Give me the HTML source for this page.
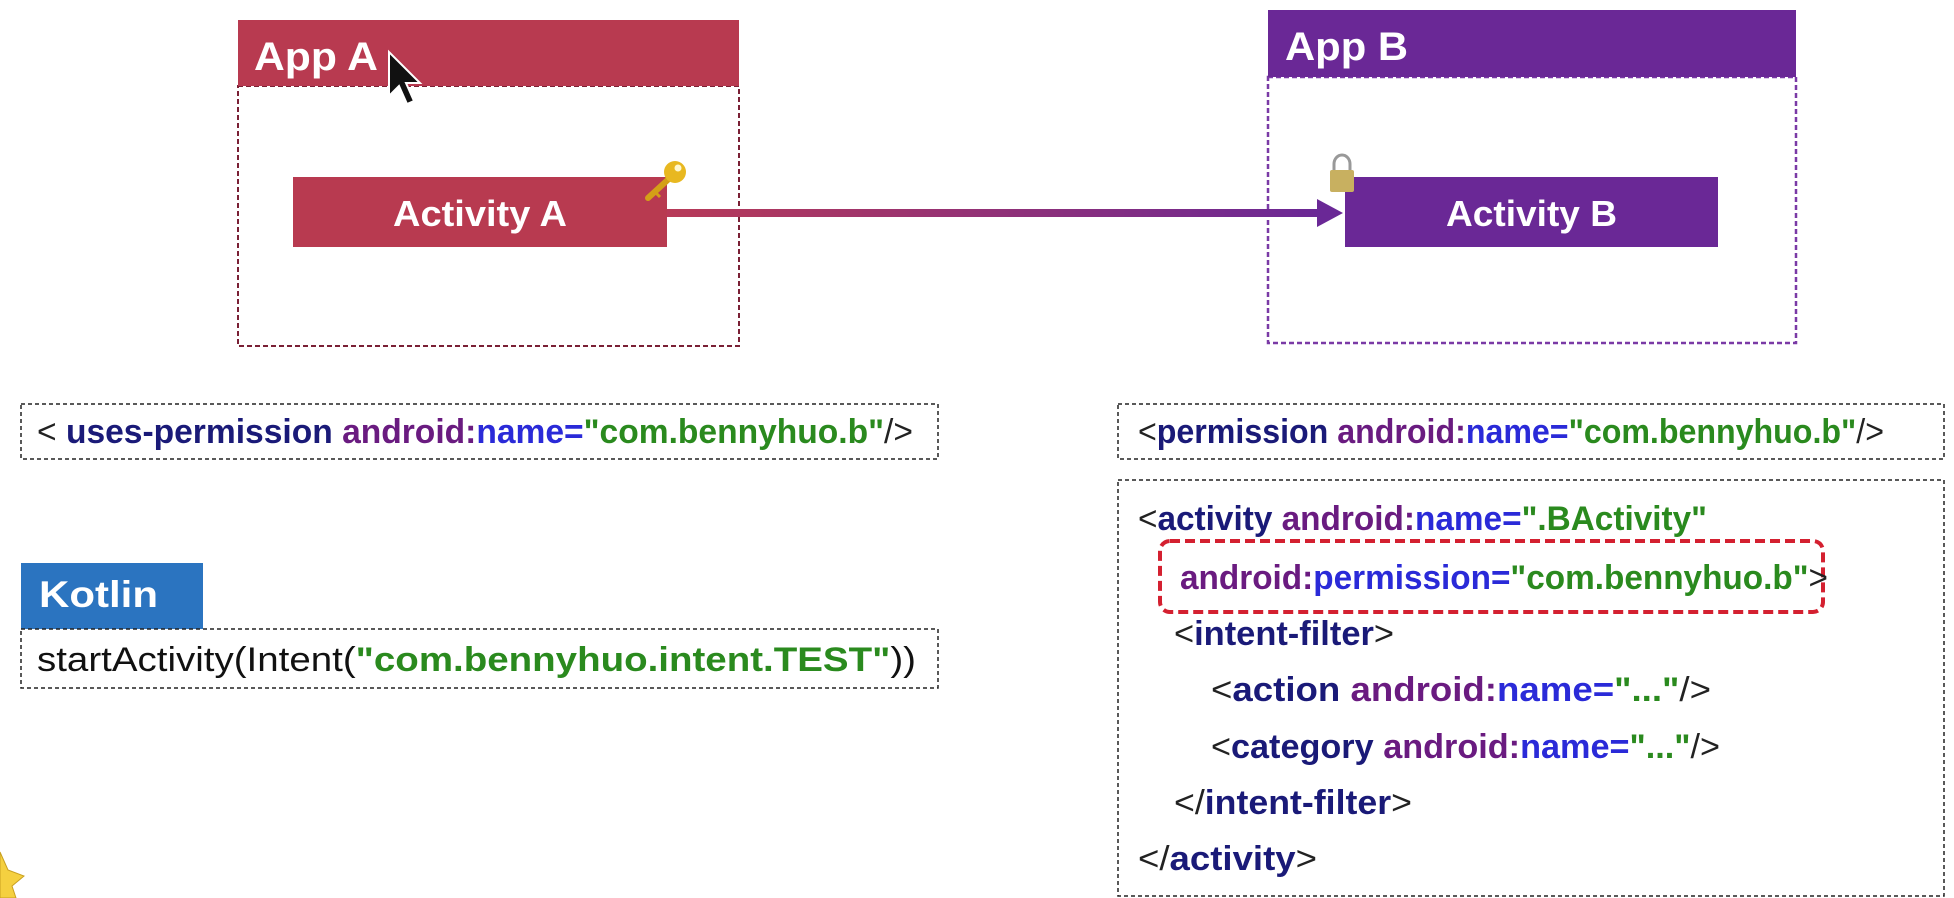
<!DOCTYPE html>
<html><head><meta charset="utf-8"><style>
html,body{margin:0;padding:0;background:#fff;}
svg{display:block;}
text{font-family:"Liberation Sans",sans-serif;}
</style></head><body>
<svg width="1954" height="898" viewBox="0 0 1954 898" xmlns="http://www.w3.org/2000/svg">
<defs>
<linearGradient id="g" x1="0" x2="1" y1="0" y2="0">
<stop offset="0" stop-color="#b83a58"/><stop offset="1" stop-color="#6a2896"/>
</linearGradient>
</defs>
<rect width="1954" height="898" fill="#fff"/>
<!-- App A -->
<rect x="238" y="86" width="501" height="260" fill="none" stroke="#7a2035" stroke-width="2" stroke-dasharray="5,3"/>
<rect x="238" y="20" width="501" height="66" fill="#b83a50"/>
<text x="254" y="70" font-size="40" font-weight="bold" fill="#fff" textLength="124" lengthAdjust="spacingAndGlyphs">App A</text>
<rect x="293" y="177" width="374" height="70" fill="#b83a50"/>
<text x="393" y="226" font-size="36" font-weight="bold" fill="#fff" textLength="174" lengthAdjust="spacingAndGlyphs">Activity A</text>
<!-- key -->
<line x1="672" y1="176" x2="648" y2="198" stroke="#d4a017" stroke-width="6" stroke-linecap="round"/>
<line x1="655" y1="192" x2="660" y2="197" stroke="#d4a017" stroke-width="3"/>
<circle cx="675" cy="172" r="11" fill="#e8b820"/>
<circle cx="678" cy="168" r="3.5" fill="#fff8d0"/>
<!-- cursor -->
<path d="M389,52 L389,96 L399,86 L407,104 L414,101 L406,83 L420,83 Z" fill="#111" stroke="#fff" stroke-width="2"/>
<!-- App B -->
<rect x="1268" y="77" width="528" height="266" fill="none" stroke="#7a3aa6" stroke-width="2.5" stroke-dasharray="5,3"/>
<rect x="1268" y="10" width="528" height="67" fill="#6a2896"/>
<text x="1285" y="60" font-size="40" font-weight="bold" fill="#fff" textLength="123" lengthAdjust="spacingAndGlyphs">App B</text>
<rect x="1345" y="177" width="373" height="70" fill="#6a2896"/>
<text x="1446" y="226" font-size="36" font-weight="bold" fill="#fff" textLength="171" lengthAdjust="spacingAndGlyphs">Activity B</text>
<!-- arrow -->
<rect x="667" y="209" width="653" height="8" fill="url(#g)"/>
<path d="M1317,199 L1343,213 L1317,227 Z" fill="#6a2896"/>
<!-- lock -->
<path d="M1334,172 L1334,164 A8,9 0 0 1 1350,164 L1350,172" fill="none" stroke="#999" stroke-width="3"/>
<rect x="1330" y="170" width="24" height="22" rx="2" fill="#c8b060"/>
<!-- uses-permission -->
<rect x="21" y="404" width="917" height="55" fill="none" stroke="#222" stroke-width="1.5" stroke-dasharray="4,3"/>
<text x="37" y="443" font-size="34" font-weight="bold" textLength="876" lengthAdjust="spacingAndGlyphs"><tspan fill="#222" font-weight="normal">&lt; </tspan><tspan fill="#1a1a78">uses-permission </tspan><tspan fill="#6a1b80">android:</tspan><tspan fill="#2a2ad8">name=</tspan><tspan fill="#2a8a1e">"com.bennyhuo.b"</tspan><tspan fill="#222" font-weight="normal">/&gt;</tspan></text>
<!-- Kotlin -->
<rect x="21" y="563" width="182" height="66" fill="#2b74c0"/>
<text x="39" y="607" font-size="37" font-weight="bold" fill="#fff" textLength="119" lengthAdjust="spacingAndGlyphs">Kotlin</text>
<rect x="21" y="629" width="917" height="59" fill="none" stroke="#222" stroke-width="1.5" stroke-dasharray="4,3"/>
<text x="37" y="671" font-size="34" textLength="879" lengthAdjust="spacingAndGlyphs"><tspan fill="#111">startActivity(Intent(</tspan><tspan fill="#2a8a1e" font-weight="bold">"com.bennyhuo.intent.TEST"</tspan><tspan fill="#111">))</tspan></text>
<!-- permission -->
<rect x="1118" y="404" width="826" height="55" fill="none" stroke="#222" stroke-width="1.5" stroke-dasharray="4,3"/>
<text x="1138" y="443" font-size="34" font-weight="bold" textLength="746" lengthAdjust="spacingAndGlyphs"><tspan fill="#222" font-weight="normal">&lt;</tspan><tspan fill="#1a1a78">permission </tspan><tspan fill="#6a1b80">android:</tspan><tspan fill="#2a2ad8">name=</tspan><tspan fill="#2a8a1e">"com.bennyhuo.b"</tspan><tspan fill="#222" font-weight="normal">/&gt;</tspan></text>
<!-- activity -->
<rect x="1118" y="480" width="826" height="416" fill="none" stroke="#222" stroke-width="1.5" stroke-dasharray="4,3"/>
<text x="1138" y="530" font-size="34" font-weight="bold" textLength="569" lengthAdjust="spacingAndGlyphs"><tspan fill="#222" font-weight="normal">&lt;</tspan><tspan fill="#1a1a78">activity </tspan><tspan fill="#6a1b80">android:</tspan><tspan fill="#2a2ad8">name=</tspan><tspan fill="#2a8a1e">".BActivity"</tspan></text>
<rect x="1160" y="541" width="663" height="71" rx="10" fill="none" stroke="#d42030" stroke-width="4" stroke-dasharray="10,5"/>
<text x="1180" y="589" font-size="34" font-weight="bold" textLength="648" lengthAdjust="spacingAndGlyphs"><tspan fill="#6a1b80">android:</tspan><tspan fill="#2a2ad8">permission=</tspan><tspan fill="#2a8a1e">"com.bennyhuo.b"</tspan><tspan fill="#222" font-weight="normal">&gt;</tspan></text>
<text x="1174" y="645" font-size="34" font-weight="bold" textLength="220" lengthAdjust="spacingAndGlyphs"><tspan fill="#222" font-weight="normal">&lt;</tspan><tspan fill="#1a1a78">intent-filter</tspan><tspan fill="#222" font-weight="normal">&gt;</tspan></text>
<text x="1211" y="701" font-size="34" font-weight="bold" textLength="500" lengthAdjust="spacingAndGlyphs"><tspan fill="#222" font-weight="normal">&lt;</tspan><tspan fill="#1a1a78">action </tspan><tspan fill="#6a1b80">android:</tspan><tspan fill="#2a2ad8">name=</tspan><tspan fill="#2a8a1e">"..."</tspan><tspan fill="#222" font-weight="normal">/&gt;</tspan></text>
<text x="1211" y="758" font-size="34" font-weight="bold" textLength="509" lengthAdjust="spacingAndGlyphs"><tspan fill="#222" font-weight="normal">&lt;</tspan><tspan fill="#1a1a78">category </tspan><tspan fill="#6a1b80">android:</tspan><tspan fill="#2a2ad8">name=</tspan><tspan fill="#2a8a1e">"..."</tspan><tspan fill="#222" font-weight="normal">/&gt;</tspan></text>
<text x="1174" y="814" font-size="34" font-weight="bold" textLength="238" lengthAdjust="spacingAndGlyphs"><tspan fill="#222" font-weight="normal">&lt;/</tspan><tspan fill="#1a1a78">intent-filter</tspan><tspan fill="#222" font-weight="normal">&gt;</tspan></text>
<text x="1138" y="870" font-size="34" font-weight="bold" textLength="179" lengthAdjust="spacingAndGlyphs"><tspan fill="#222" font-weight="normal">&lt;/</tspan><tspan fill="#1a1a78">activity</tspan><tspan fill="#222" font-weight="normal">&gt;</tspan></text>
<!-- star -->
<path d="M0,852 L8,870 L24,876 L12,886 L16,898 L0,898 Z" fill="#f5d040" stroke="#c9a020" stroke-width="1"/>
</svg>
</body></html>
